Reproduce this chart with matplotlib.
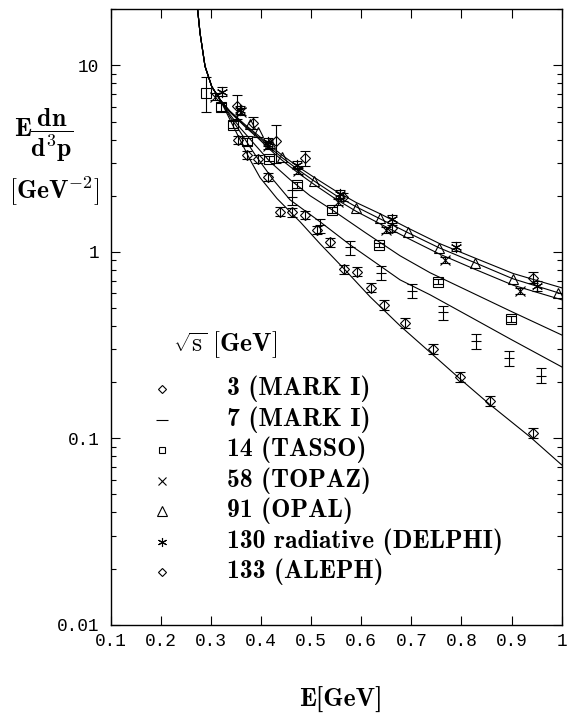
import os
import matplotlib
matplotlib.use('Agg')
import matplotlib.pyplot as plt
from matplotlib import font_manager
from matplotlib.ticker import FixedLocator, LogLocator, NullFormatter

font_manager.fontManager.addfont(os.path.join(matplotlib.get_data_path(), 'fonts', 'ttf', 'cmb10.ttf'))
plt.rcParams['mathtext.fontset'] = 'cm'

# data points
x_3 = [0.354, 0.372, 0.395, 0.415, 0.438, 0.463, 0.488, 0.512, 0.538, 0.565, 0.591, 0.619, 0.646, 0.687, 0.743, 0.798, 0.856, 0.942]
y_3 = [3.99, 3.32, 3.15, 2.52, 1.645, 1.633, 1.58, 1.31, 1.127, 0.807, 0.784, 0.643, 0.519, 0.417, 0.301, 0.214, 0.159, 0.107]
e_3 = [0.2, 0.17, 0.16, 0.13, 0.09, 0.09, 0.08, 0.07, 0.06, 0.045, 0.045, 0.035, 0.03, 0.025, 0.018, 0.013, 0.01, 0.007]

x_7 = [0.462, 0.518, 0.578, 0.639, 0.701, 0.764, 0.829, 0.894, 0.959]
y_7 = [1.96, 1.388, 1.057, 0.772, 0.617, 0.473, 0.331, 0.268, 0.217]
e_7 = [0.18, 0.12, 0.09, 0.07, 0.055, 0.042, 0.03, 0.024, 0.02]

x_14 = [0.2905, 0.3205, 0.3444, 0.3717, 0.4163, 0.4715, 0.5425, 0.6357, 0.754, 0.899]
y_14 = [7.14, 6.0, 4.81, 3.91, 3.16, 2.29, 1.67, 1.09, 0.693, 0.435]
e_14 = [1.5, 0.3, 0.2, 0.15, 0.1, 0.08, 0.06, 0.03, 0.02, 0.015]

x_58 = [0.3085, 0.3604, 0.4142, 0.4741, 0.5539, 0.6497, 0.7674, 0.917]
y_58 = [6.79, 5.64, 3.71, 2.72, 1.855, 1.31, 0.906, 0.617]
e_58 = [0.3, 0.25, 0.15, 0.1, 0.07, 0.05, 0.035, 0.025]

x_91 = [0.3783, 0.3943, 0.4183, 0.4422, 0.506, 0.5898, 0.6377, 0.6942, 0.7554, 0.8273, 0.9037, 0.9923]
y_91 = [4.87, 4.41, 3.85, 3.24, 2.41, 1.71, 1.51, 1.27, 1.047, 0.876, 0.714, 0.600]

x_130 = [0.3225, 0.3584, 0.4142, 0.4721, 0.5579, 0.661, 0.7894, 0.950]
y_130 = [7.22, 5.78, 3.89, 2.93, 2.05, 1.50, 1.067, 0.655]
e_130 = [0.4, 0.3, 0.2, 0.15, 0.1, 0.08, 0.06, 0.04]

x_133 = [0.3518, 0.3843, 0.4302, 0.4881, 0.5639, 0.661, 0.9436]
y_133 = [6.03, 4.93, 3.91, 3.18, 1.98, 1.34, 0.728]
e_133 = [0.9, 0.35, 0.9, 0.3, 0.1, 0.06, 0.05]

# model curves: shared steep start, then one branch per energy
common_x = [0.2733, 0.2786, 0.2885, 0.3019, 0.3185]
common_y = [20.5, 14.9, 9.9, 7.7, 6.55]

c3_x = [0.3384, 0.3584, 0.3783, 0.3983, 0.4322, 0.4781, 0.5180, 0.5639, 0.6177, 0.6776, 0.7409, 0.7973, 0.8552, 0.9370, 1.0]
c3_y = [5.11, 3.99, 3.12, 2.50, 1.93, 1.449, 1.104, 0.821, 0.574, 0.401, 0.2835, 0.208, 0.1528, 0.1016, 0.0719]

c7_x = [0.3384, 0.3584, 0.3883, 0.4242, 0.4581, 0.5180, 0.5778, 0.6377, 0.6776, 0.7375, 0.8173, 0.8970, 1.0]
c7_y = [5.30, 4.41, 3.32, 2.44, 1.90, 1.449, 1.09, 0.841, 0.707, 0.588, 0.448, 0.341, 0.2414]

c14_x = [0.3384, 0.3584, 0.3883, 0.4183, 0.4581, 0.4980, 0.5419, 0.6078, 0.6776, 0.7375, 0.8173, 0.8970, 1.0]
c14_y = [5.44, 4.63, 3.75, 3.04, 2.44, 2.00, 1.680, 1.27, 0.952, 0.772, 0.610, 0.482, 0.358]

cb_x = [0.3384, 0.3684, 0.3943, 0.4183, 0.4422, 0.4741, 0.5060, 0.5479, 0.5898, 0.6377, 0.6936, 0.7554, 0.8273, 0.9031, 1.0]
c58_y = [5.61, 4.69, 4.07, 3.53, 3.10, 2.65, 2.30, 1.93, 1.650, 1.413, 1.180, 0.975, 0.805, 0.662, 0.553]
c91_y = [5.64, 4.75, 4.14, 3.62, 3.20, 2.76, 2.40, 2.02, 1.744, 1.503, 1.265, 1.051, 0.873, 0.716, 0.595]
c133_y = [5.68, 4.81, 4.22, 3.71, 3.30, 2.86, 2.51, 2.13, 1.84, 1.60, 1.34, 1.11, 0.925, 0.765, 0.641]

curves = [(c3_x, c3_y), (c7_x, c7_y), (c14_x, c14_y), (cb_x, c58_y), (cb_x, c91_y), (cb_x, c133_y)]

legend_labels = ['3 (MARK I)', '7 (MARK I)', '14 (TASSO)', '58 (TOPAZ)', '91 (OPAL)',
                 '130 radiative (DELPHI)', '133 (ALEPH)']

x_ticks = [0.1, 0.2, 0.3, 0.4, 0.5, 0.6, 0.7, 0.8, 0.9, 1.0]
x_tick_labels = ['0.1', '0.2', '0.3', '0.4', '0.5', '0.6', '0.7', '0.8', '0.9', '1']
y_ticks = [0.01, 0.1, 1, 10]
y_tick_labels = ['0.01', '0.1', '1', '10']

fig = plt.figure(figsize=(5.67, 7.15), dpi=100)
ax = fig.add_axes([0.1949, 0.1264, 0.7958, 0.8606])

for cx, cy in curves:
    ax.plot(common_x + cx, common_y + cy, color='black', lw=0.8)

bar_kw = dict(fmt='none', ecolor='black', elinewidth=0.8, capsize=3.3, capthick=0.8)
mk = dict(ls='none', mfc='none', mec='black', mew=0.8)

ax.errorbar(x_3, y_3, yerr=e_3, **bar_kw)
ax.plot(x_3, y_3, marker='D', ms=5.2, **mk)
ax.errorbar(x_7, y_7, yerr=e_7, **bar_kw)
ax.plot(x_7, y_7, marker='_', ms=6.5, **mk)
ax.errorbar(x_14, y_14, yerr=e_14, **bar_kw)
ax.plot(x_14, y_14, marker='s', ms=6.5, **mk)
ax.errorbar(x_58, y_58, yerr=e_58, **bar_kw)
ax.plot(x_58, y_58, marker='x', ms=6.5, **mk)
ax.plot(x_91, y_91, marker='^', ms=7, **mk)
ax.errorbar(x_130, y_130, yerr=e_130, **bar_kw)
ax.plot(x_130, y_130, marker=(6, 2, 0), ms=8, **mk)
ax.errorbar(x_133, y_133, yerr=e_133, **bar_kw)
ax.plot(x_133, y_133, marker='D', ms=5.2, **mk)

ax.set_yscale('log')
ax.set_xlim(0.1, 1.0)
ax.set_ylim(0.01, 20)
ax.xaxis.set_major_locator(FixedLocator(x_ticks))
ax.set_xticklabels(x_tick_labels)
ax.yaxis.set_major_locator(FixedLocator(y_ticks))
ax.set_yticklabels(y_tick_labels)
ax.yaxis.set_minor_locator(LogLocator(base=10, subs=[2, 3, 4, 5, 6, 7, 8, 9]))
ax.yaxis.set_minor_formatter(NullFormatter())
ax.tick_params(which='both', direction='in', top=True, right=True, width=0.8)
ax.tick_params(which='major', length=6.5)
ax.tick_params(which='minor', length=3.6)
ax.tick_params(axis='x', pad=6)
ax.tick_params(axis='y', pad=8)
for lab in ax.get_xticklabels() + ax.get_yticklabels():
    lab.set_family('Liberation Mono')
    lab.set_fontsize(12.8)
for sp in ax.spines.values():
    sp.set_linewidth(1.0)

W, H = 567.0, 715.0
fs = 18.5
fig.text(14 / W, 1 - 135 / H, r'$\mathbf{E}\dfrac{\mathbf{dn}}{\mathbf{d^3p}}$', fontsize=fs, ha='left', va='center')
fig.text(9 / W, 1 - 191 / H, r'$\mathbf{[GeV^{-2}]}$', fontsize=fs, ha='left', va='center')
fig.text(341 / W, 1 - 700 / H, 'E[GeV]', family='cmb10', fontsize=fs, ha='center', va='center')

# legend block
fig.text(173 / W, 1 - 345 / H, r'$\sqrt{\mathrm{s}}\ \mathbf{[GeV]}$', fontsize=fs, ha='left', va='center')
leg_markers = [('D', 4.2), ('_', 8), ('s', 5), ('x', 6), ('^', 6.5), ((6, 2, 0), 6.5), ('D', 4.2)]
for i, (lab, (m, s)) in enumerate(zip(legend_labels, leg_markers)):
    yy = 1 - (389 + 30.5 * i) / H
    ax.plot([162 / W], [yy], marker=m, ms=s, transform=fig.transFigure, clip_on=False, **mk)
    fig.text(227 / W, yy, lab, family='cmb10', fontsize=fs, ha='left', va='center')

fig.savefig('out.png', dpi=100)
